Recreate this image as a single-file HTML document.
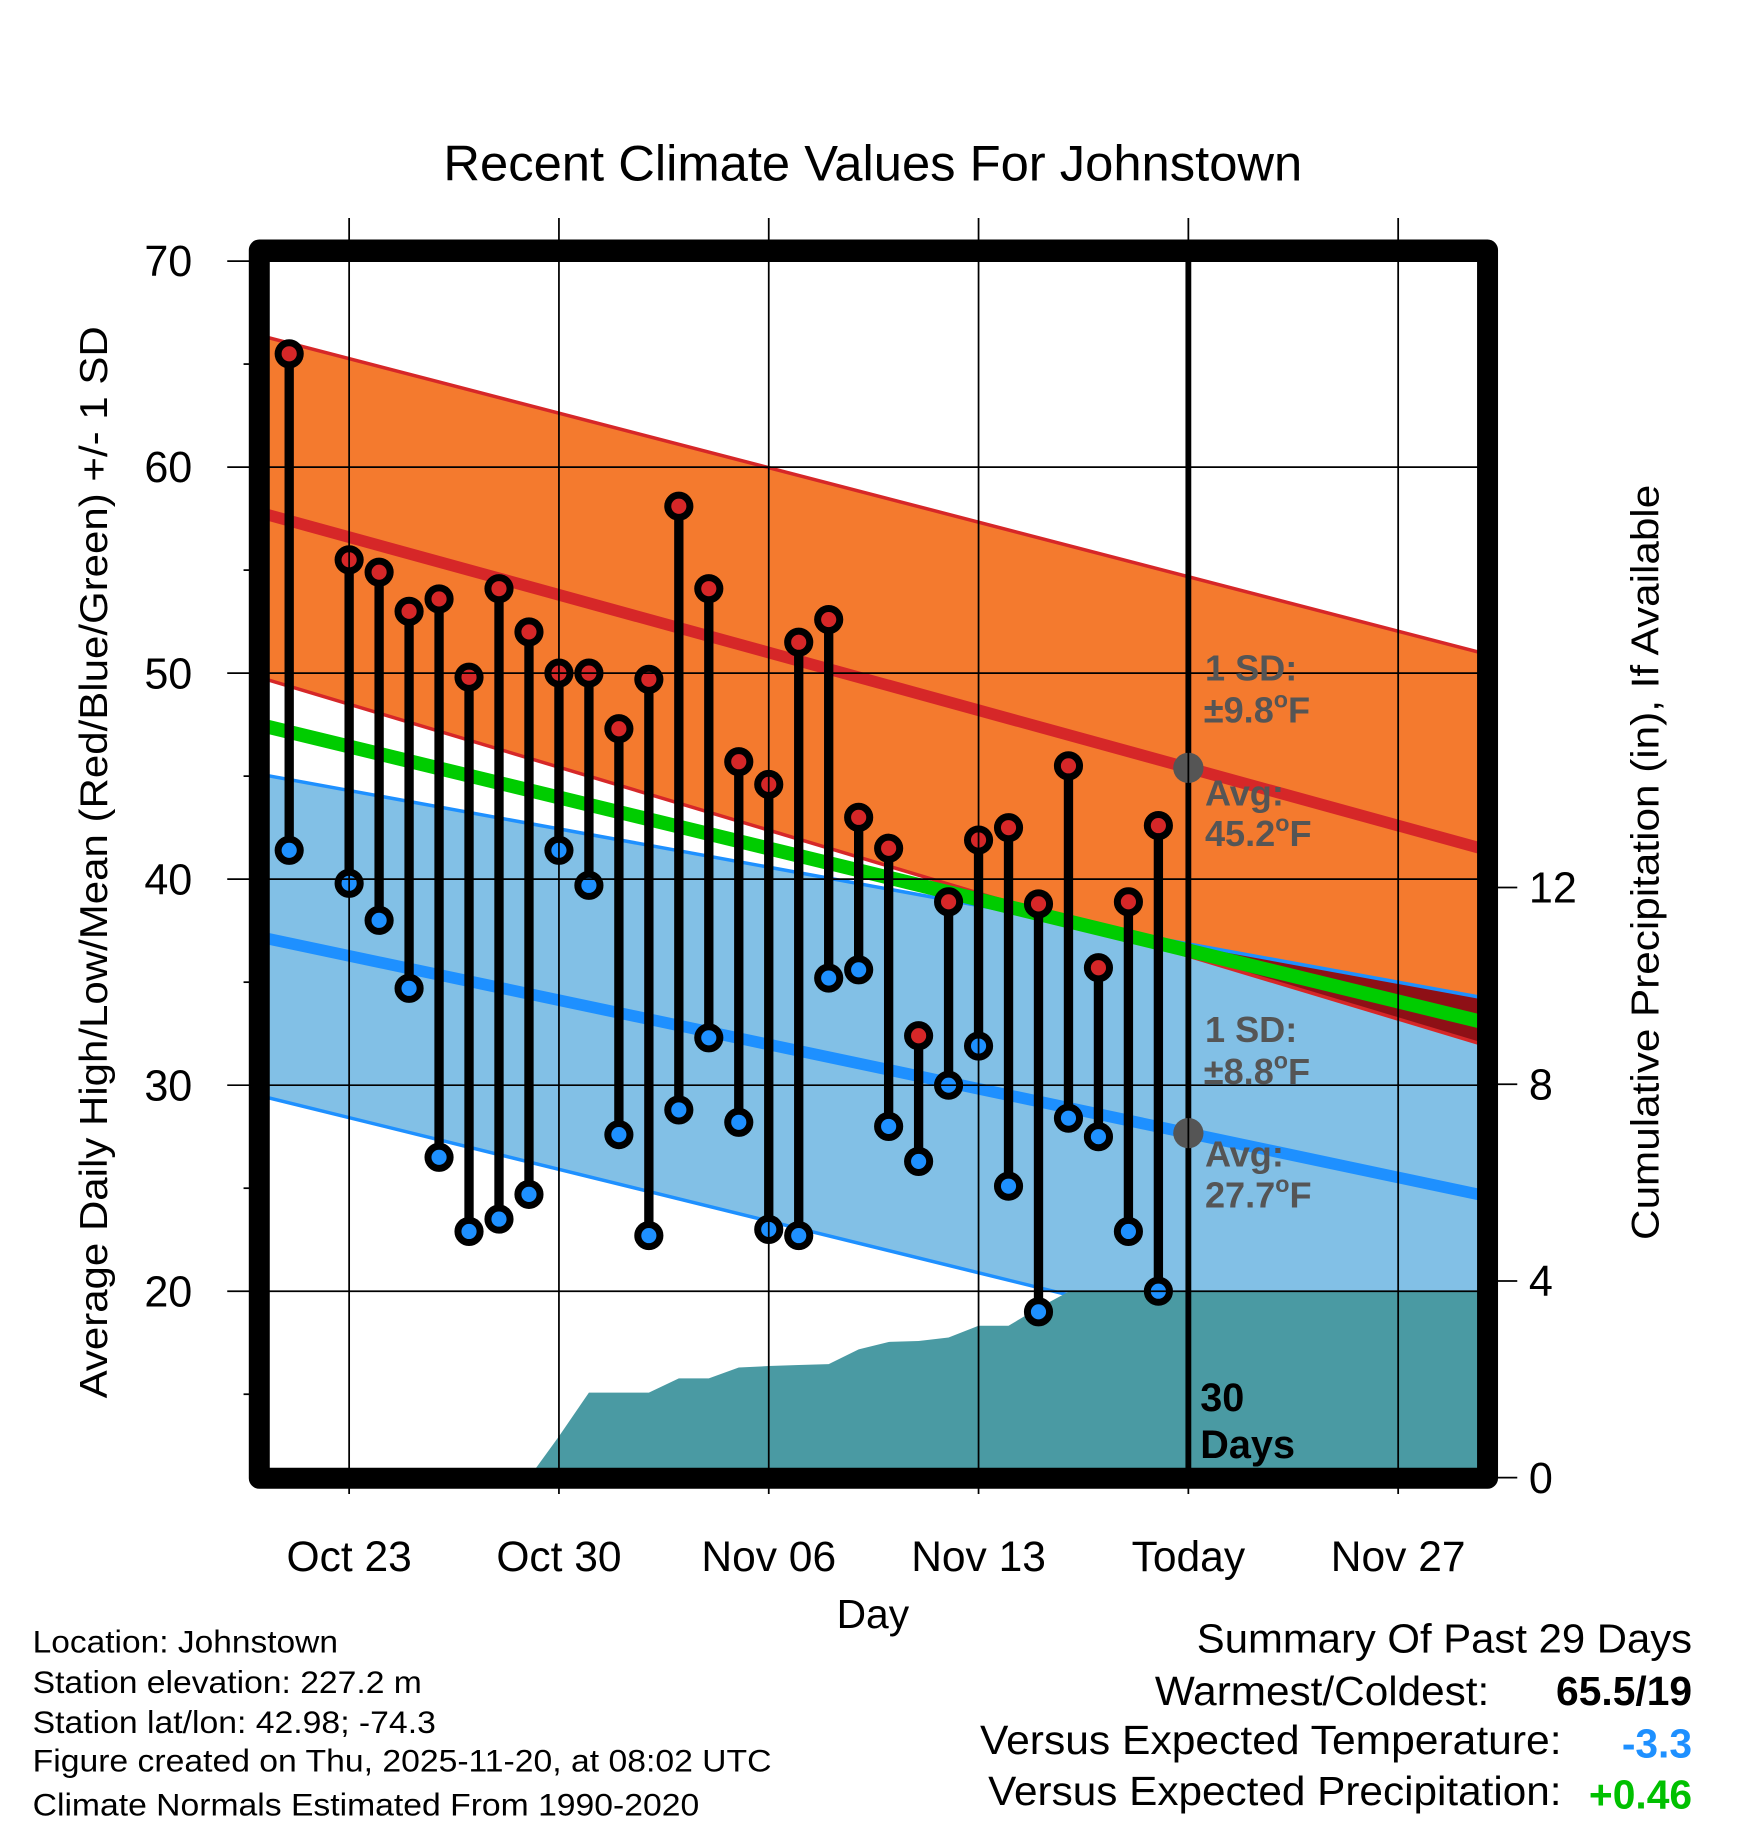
<!DOCTYPE html>
<html><head><meta charset="utf-8"><style>html,body{margin:0;padding:0;background:#fff}svg{display:block}</style></head>
<body>
<svg id="chart" xmlns="http://www.w3.org/2000/svg" width="1748" height="1828" viewBox="0 0 1500 1568.6" font-family="Liberation Sans, sans-serif">
<rect width="1500" height="1568.6" fill="#fff"/>
<defs><clipPath id="pc"><rect x="231" y="222" width="1037" height="1038"/></clipPath></defs>
<g id="plot" clip-path="url(#pc)"></g>
<g id="axes"></g>
<text x="749" y="155" font-size="43" text-anchor="middle" textLength="737" lengthAdjust="spacingAndGlyphs">Recent Climate Values For Johnstown</text>
<text x="749" y="1397" font-size="35" text-anchor="middle">Day</text>
<text transform="translate(92,740) rotate(-90)" font-size="33" text-anchor="middle" textLength="920" lengthAdjust="spacingAndGlyphs">Average Daily High/Low/Mean (Red/Blue/Green) +/- 1 SD</text>
<text transform="translate(1423,740) rotate(-90)" font-size="33" text-anchor="middle" textLength="648" lengthAdjust="spacingAndGlyphs">Cumulative Precipitation (in), If Available</text>
<g font-size="27">
<text x="28" y="1418" textLength="262" lengthAdjust="spacingAndGlyphs">Location: Johnstown</text>
<text x="28" y="1453" textLength="334" lengthAdjust="spacingAndGlyphs">Station elevation: 227.2 m</text>
<text x="28" y="1487" textLength="346" lengthAdjust="spacingAndGlyphs">Station lat/lon: 42.98; -74.3</text>
<text x="28" y="1520" textLength="634" lengthAdjust="spacingAndGlyphs">Figure created on Thu, 2025-11-20, at 08:02 UTC</text>
<text x="28" y="1558" textLength="572" lengthAdjust="spacingAndGlyphs">Climate Normals Estimated From 1990-2020</text>
</g>
<g font-size="35">
<text x="1027" y="1418" textLength="425" lengthAdjust="spacingAndGlyphs">Summary Of Past 29 Days</text>
<text x="991" y="1463" textLength="287" lengthAdjust="spacingAndGlyphs">Warmest/Coldest:</text>
<text x="1452" y="1463" font-weight="bold" text-anchor="end">65.5/19</text>
<text x="841" y="1505" textLength="499" lengthAdjust="spacingAndGlyphs">Versus Expected Temperature:</text>
<text x="1452" y="1508" font-weight="bold" fill="#1e90ff" text-anchor="end">-3.3</text>
<text x="848" y="1549" textLength="492" lengthAdjust="spacingAndGlyphs">Versus Expected Precipitation:</text>
<text x="1452" y="1552" font-weight="bold" fill="#00c000" text-anchor="end">+0.46</text>
</g>
<script>
// day index 0 = Oct 23
const obsDays = [-2,0,1,2,3,4,5,6,7,8,9,10,11,12,13,14,15,16,17,18,19,20,21,22,23,24,25,26,27];
const highs = [65.5,55.5,54.9,53,53.6,49.8,54.1,52,50,50,47.3,49.7,58.1,54.1,45.7,44.6,51.5,52.6,43,41.5,32.4,38.9,41.9,42.5,38.8,45.5,35.7,38.9,42.6];
const lows  = [41.4,39.8,38,34.7,26.5,22.9,23.5,24.7,41.4,39.7,27.6,22.7,28.8,32.3,28.2,23,22.7,35.2,35.6,28,26.3,30,31.9,25.1,19,28.4,27.5,22.9,20];
const normalDays = [-3, 38];
const highUpper = [66.4, 50.9];
const highMean = [57.8, 41.4];
const highLower = [49.8, 31.9];
const lowUpper = [45.1, 34.2];
const lowMean = [37.2, 24.6];
const lowLower = [29.5, 14.8];
const precipDays = [6,7,8,9,10,11,12,13,14,15,16,17,18,19,20,21,22,23,24,25,38];
const precipVals = [0,0.84,1.73,1.73,1.73,2.02,2.02,2.24,2.27,2.29,2.31,2.61,2.76,2.78,2.85,3.09,3.09,3.45,3.78,3.78,3.78];
const tempTicks = [20,30,40,50,60,70];
const precipTicks = [0,4,8,12];
const dateTickDays = [0,7,14,21,28,35];
const dateTickLabels = ["Oct 23","Oct 30","Nov 06","Nov 13","Today","Nov 27"];
const todayDay = 28;

const NS="http://www.w3.org/2000/svg";
const X = d => 299.6 + 25.72*d;
const Y = t => 224 + (70-t)*17.68;
const YP = p => 1268 - p*42.2;
const lerp = (arr,d) => arr[0] + (arr[1]-arr[0])*(d-normalDays[0])/(normalDays[1]-normalDays[0]);
function mk(parent, tag, attrs){const e=document.createElementNS(NS,tag);for(const k in attrs)e.setAttribute(k,attrs[k]);parent.appendChild(e);return e;}
const plot=document.getElementById('plot'), axes=document.getElementById('axes');
const d0=normalDays[0], d1=normalDays[1];
function band(up,lo,fill){
  const pts=[[X(d0),Y(up[0])],[X(d1),Y(up[1])],[X(d1),Y(lo[1])],[X(d0),Y(lo[0])]];
  return mk(plot,'polygon',{points:pts.map(q=>q.join(',')).join(' '),fill:fill});
}
const hb=band(highUpper,highLower,'#f47a2e');


const lb=band(lowUpper,lowLower,'#82c0e6');


// overlap
{const top=[],bot=[];for(let i=0;i<=200;i++){const d=d0+(d1-d0)*i/200;const t=Math.min(lerp(highUpper,d),lerp(lowUpper,d));const b=Math.max(lerp(highLower,d),lerp(lowLower,d));const tt=Math.max(t,b);top.push([X(d),Y(tt)]);bot.push([X(d),Y(b)]);}
const p=mk(plot,'polygon',{points:top.concat(bot.reverse()).map(q=>q.join(',')).join(' '),fill:'#8e1016'});

}
function line(arr,color,w){return mk(plot,'line',{x1:X(d0),y1:Y(arr[0]),x2:X(d1),y2:Y(arr[1]),stroke:color,'stroke-width':w});}
let ln;
ln=line(highUpper,'#d62728',3);

ln=line(highLower,'#d62728',3);

ln=line(lowUpper,'#1e90ff',3);

ln=line(lowLower,'#1e90ff',3);

// precip
{const pts=precipDays.map((d,i)=>[X(d),YP(precipVals[i])]);pts.push([X(precipDays[precipDays.length-1]),1270]);pts.push([X(precipDays[0]),1270]);
const p=mk(plot,'polygon',{points:pts.map(q=>q.join(',')).join(' '),fill:'#4a9aa3'});

}
// grid
tempTicks.forEach(t=>{const l=mk(axes,'line',{x1:195,x2:1268,y1:Y(t),y2:Y(t),stroke:'#000','stroke-width':1.5});


const tx=mk(axes,'text',{x:165,y:Y(t)+13,'font-size':37,'text-anchor':'end'});tx.textContent=t;

});
[25,35,45,55,65,15].forEach(t=>{mk(axes,'line',{x1:209,x2:222,y1:Y(t),y2:Y(t),stroke:'#000','stroke-width':1.5});});
precipTicks.forEach(p=>{mk(axes,'line',{x1:1268,x2:1302,y1:YP(p),y2:YP(p),stroke:'#000','stroke-width':1.5});
const tx=mk(axes,'text',{x:1312,y:YP(p)+13,'font-size':37});tx.textContent=p;

});
dateTickDays.forEach((d,i)=>{const l=mk(axes,'line',{x1:X(d),x2:X(d),y1:187,y2:1282,stroke:'#000','stroke-width':1.5});


const tx=mk(axes,'text',{x:X(d),y:1348,'font-size':36.5,'text-anchor':'middle'});tx.textContent=dateTickLabels[i];

});
ln=line(highMean,'#d62728',10);

ln=line(lowMean,'#1e90ff',10);

{const mm=[(highMean[0]+lowMean[0])/2,(highMean[1]+lowMean[1])/2];ln=line(mm,'#00cc00',12);
}
{const l=mk(plot,'line',{x1:X(todayDay),x2:X(todayDay),y1:200,y2:1280,stroke:'#000','stroke-width':5});

}
[[lerp(highMean,todayDay),'today-high-avg-dot'],[lerp(lowMean,todayDay),'today-low-avg-dot']].forEach(a=>{const c=mk(plot,'circle',{cx:X(todayDay),cy:Y(a[0]),r:13,fill:'#555'});

});
obsDays.forEach((d,i)=>{const s=mk(plot,'line',{x1:X(d),x2:X(d),y1:Y(highs[i]),y2:Y(lows[i]),stroke:'#000','stroke-width':8});

});
obsDays.forEach((d,i)=>{const h=mk(plot,'circle',{cx:X(d),cy:Y(highs[i]),r:9.5,fill:'#d62728',stroke:'#000','stroke-width':6});


const l=mk(plot,'circle',{cx:X(d),cy:Y(lows[i]),r:9.5,fill:'#1e90ff',stroke:'#000','stroke-width':6});

});
</script>
<g font-size="31" font-weight="bold" fill="#555">
<text x="1034" y="584">1 SD:</text><text x="1033" y="620">±9.8<tspan font-size="20" dy="-13">o</tspan><tspan dy="13">F</tspan></text>
<text x="1034" y="691">Avg:</text><text x="1034" y="726">45.2<tspan font-size="20" dy="-13">o</tspan><tspan dy="13">F</tspan></text>
<text x="1034" y="894">1 SD:</text><text x="1033" y="930">±8.8<tspan font-size="20" dy="-13">o</tspan><tspan dy="13">F</tspan></text>
<text x="1034" y="1001">Avg:</text><text x="1034" y="1036">27.7<tspan font-size="20" dy="-13">o</tspan><tspan dy="13">F</tspan></text>
<text x="1030" y="1211" fill="#000" font-size="34">30</text><text x="1030" y="1251" fill="#000" font-size="34">Days</text>
</g>
<rect x="222.5" y="214.5" width="1054" height="1054" fill="none" stroke="#000" stroke-width="18" stroke-linejoin="round"/>
</svg>
</body></html>
